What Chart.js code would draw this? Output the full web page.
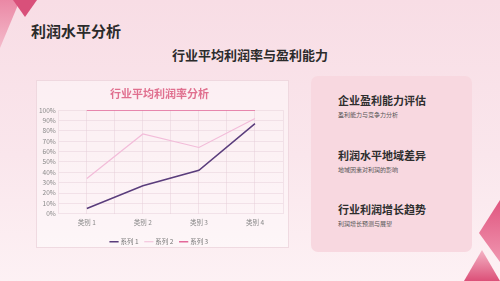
<!DOCTYPE html>
<html>
<head>
<meta charset="utf-8">
<script src="https://cdn.jsdelivr.net/npm/chart.js@4/dist/chart.umd.min.js"></script>
<style>
  html, body { margin: 0; padding: 0; }
  body {
    width: 500px; height: 281px; position: relative; overflow: hidden;
    background: linear-gradient(180deg, #f8dde5 0%, #fae6ec 55%, #fdf1f4 100%);
    font-family: "Noto Sans CJK SC", "Noto Sans", sans-serif;
  }
  .deco { position: absolute; left: 0; top: 0; }
  .title { position: absolute; left: 31px; top: 20px; font-size: 15px; font-weight: 700; color: #2b2b2b; }
  .subtitle { position: absolute; left: 0; width: 500px; top: 45px; text-align: center; font-size: 13px; font-weight: 700; color: #2b2b2b; }
  .chart-box {
    position: absolute; left: 36px; top: 80px; width: 253px; height: 168px;
    background: rgba(255, 255, 255, 0.45); border: 1px solid rgba(230, 200, 210, 0.6); box-sizing: border-box;
  }
  .side {
    position: absolute; left: 311px; top: 76px; width: 161px; height: 176px;
    background: #f8d8e0; border-radius: 7px;
  }
  .item { position: absolute; left: 27px; }
  .item h3 { margin: 0; font-size: 11px; font-weight: 700; color: #2e2e2e; line-height: 14px; }
  .item p { margin: 4px 0 0; font-size: 6px; color: #555; line-height: 8px; }
</style>
</head>
<body>
<svg class="deco" width="500" height="281">
  <defs>
    <linearGradient id="g1" x1="0" y1="0" x2="0" y2="1">
      <stop offset="0" stop-color="#e8799a"/>
      <stop offset="1" stop-color="#f3b4c5"/>
    </linearGradient>
    <linearGradient id="g2" x1="0" y1="0" x2="0" y2="1">
      <stop offset="0" stop-color="#e0557f"/>
      <stop offset="1" stop-color="#f096b0"/>
    </linearGradient>
    <linearGradient id="g3" x1="0" y1="1" x2="0" y2="0">
      <stop offset="0" stop-color="#dc5078"/>
      <stop offset="1" stop-color="#f4b4c6"/>
    </linearGradient>
  </defs>
  <polygon points="0,0 20,0 0,48" fill="url(#g1)" opacity="0.85"/>
  <polygon points="13,0 37,0 25,17" fill="#d9507a"/>
  <polygon points="500,200 479,233 500,262" fill="url(#g2)"/>
  <polygon points="482,250 464,281 500,281" fill="url(#g3)"/>
</svg>
<div class="title">利润水平分析</div>
<div class="subtitle">行业平均利润率与盈利能力</div>
<div class="chart-box"></div>
<div style="position:absolute;left:36px;top:80px;width:253px;height:175px;">
  <canvas id="c"></canvas>
</div>
<div class="side">
  <div class="item" style="top:17px"><h3>企业盈利能力评估</h3><p>盈利能力与竞争力分析</p></div>
  <div class="item" style="top:72px"><h3>利润水平地域差异</h3><p>地域因素对利润的影响</p></div>
  <div class="item" style="top:126px"><h3>行业利润增长趋势</h3><p>利润增长预测与展望</p></div>
</div>
<script>
const categories = ['类别 1', '类别 2', '类别 3', '类别 4'];
const series1 = [5, 27, 42, 87];
const series2 = [34, 77, 64, 92];
const series3 = [100, 100, 100, 100];
const seriesNames = ['系列 1', '系列 2', '系列 3'];

const gridColor = 'rgba(228, 205, 214, 0.45)';

new Chart(document.getElementById('c'), {
  type: 'line',
  data: {
    labels: categories,
    datasets: [
      { label: seriesNames[0], data: series1, borderColor: '#5a3d7c', backgroundColor: '#5a3d7c', borderWidth: 1.5, pointRadius: 0, tension: 0 },
      { label: seriesNames[1], data: series2, borderColor: '#f2bcd9', backgroundColor: '#f2bcd9', borderWidth: 1.2, pointRadius: 0, tension: 0 },
      { label: seriesNames[2], data: series3, borderColor: '#e3689a', backgroundColor: '#e3689a', borderWidth: 1.5, pointRadius: 0, tension: 0 }
    ]
  },
  options: {
    responsive: true,
    maintainAspectRatio: false,
    animation: false,
    layout: { padding: { left: 0, right: 6, top: 0, bottom: 0 } },
    plugins: {
      title: {
        display: true,
        text: '行业平均利润率分析',
        color: '#e0708f',
        font: { size: 11, weight: 'bold', family: '"Noto Sans CJK SC"' },
        padding: { top: 7, bottom: 10 }
      },
      legend: {
        position: 'bottom',
        labels: {
          usePointStyle: true, pointStyle: 'line', boxWidth: 14, padding: 7,
          color: '#777', font: { size: 6.5, family: '"Noto Sans CJK SC"' }
        }
      },
      tooltip: { enabled: false }
    },
    scales: {
      x: {
        offset: true,
        grid: { offset: true, color: gridColor, drawTicks: false },
        border: { display: false },
        ticks: { color: '#888', padding: 5, font: { size: 6.5, family: '"Noto Sans CJK SC"' } }
      },
      x2: {
        type: 'category',
        labels: categories,
        offset: true,
        position: 'bottom',
        grid: { offset: false, color: gridColor, drawTicks: false },
        border: { display: false },
        ticks: { display: false }
      },
      y: {
        min: 0, max: 100,
        ticks: { stepSize: 10, autoSkip: false, callback: v => v + '%', color: '#888', padding: 3, font: { size: 6.5, family: '"Noto Sans CJK SC"' } },
        grid: { color: gridColor, drawTicks: false },
        border: { display: false }
      }
    }
  }
});
</script>
</body>
</html>
